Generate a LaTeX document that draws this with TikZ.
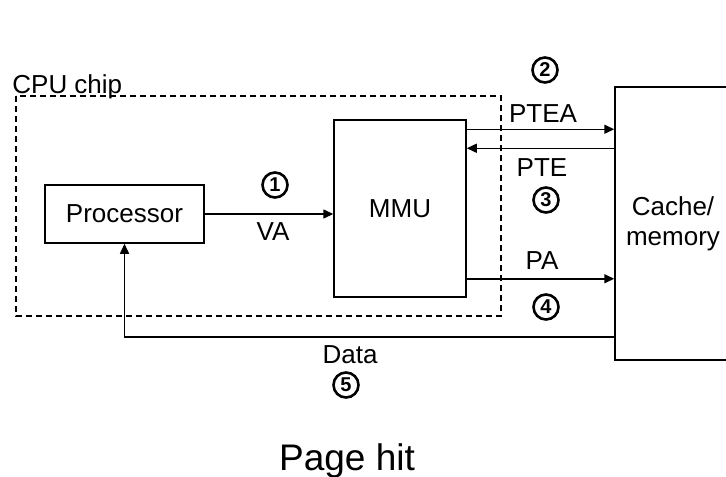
\documentclass[tikz,border=0pt]{standalone}
\usepackage{fontspec}
\setmainfont{Liberation Sans}
\usetikzlibrary{shapes,arrows.meta,positioning}

\tikzset{
  unit/.style={draw, line width=0.75pt, inner sep=0pt, font=\fontsize{13}{15}\selectfont},
  sig/.style={inner sep=0pt, font=\fontsize{13}{15}\selectfont},
  stepnum/.style={circle, draw, line width=1.3pt, minimum size=12.5pt, inner sep=0pt, font=\fontsize{10}{10}\selectfont\bfseries},
  bus/.style={line width=0.75pt, -{Triangle[length=5pt,width=4.5pt]}}
}

\begin{document}
\begin{tikzpicture}[x=0.5pt,y=-0.5pt]
\useasboundingbox (0,0) rectangle (726,476);
\clip (0,0) rectangle (726,476);
% chip outline
\draw[line width=0.75pt, dash pattern=on 3pt off 2pt] (16,96) rectangle (501,316);
\node[sig, anchor=base west] (chip) at (12,93) {CPU chip};

% units
\node[unit, minimum width=79.5pt, minimum height=29pt] (proc) at (124.5,214) {Processor};
\node[unit, minimum width=66pt, minimum height=88.5pt] (mmu) at (400,208.5) {MMU};
\node[unit, minimum width=58pt, minimum height=136.5pt, align=center] (mem) at (673,223.5) {Cache/\\memory};

% buses
\coordinate (pteaA) at ([yshift=-5pt]mmu.north east);
\coordinate (pteB) at ([yshift=-14.5pt]mmu.north east);
\coordinate (paA) at ([yshift=9.5pt]mmu.south east);
\coordinate (dataA) at ([yshift=12pt]mem.south west);
\draw[bus] (proc.east) -- (proc.east -| mmu.west);
\draw[bus] (pteaA) -- (pteaA -| mem.west);
\draw[bus] (pteB -| mem.west) -- (pteB);
\draw[bus] (paA) -- (paA -| mem.west);
\draw[bus] (dataA) -| (proc.south);

% labels and steps
\node[sig] (va) at (273,232) {VA};
\node[stepnum] (s1) at (275,185) {1};
\node[sig] (ptea) at (543,114) {PTEA};
\node[stepnum] (s2) at (545,70) {2};
\node[sig] (pte) at (542,168) {PTE};
\node[stepnum] (s3) at (546,200) {3};
\node[sig] (pa) at (542,261) {PA};
\node[stepnum] (s4) at (546,307) {4};
\node[sig] (data) at (350,355) {Data};
\node[stepnum] (s5) at (346,385) {5};
\node[inner sep=0pt, anchor=base, font=\fontsize{18.5}{22}\selectfont] (title) at (347,470) {Page hit};
\end{tikzpicture}
\end{document}
